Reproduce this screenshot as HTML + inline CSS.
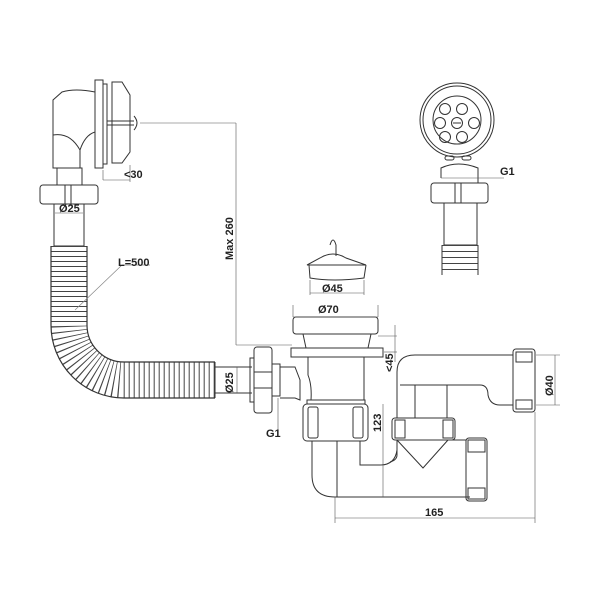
<!DOCTYPE html>
<html><head><meta charset="utf-8"><style>
html,body{margin:0;padding:0;background:#fff}
svg{display:block}
text{font-family:"Liberation Sans",sans-serif;font-weight:bold;font-size:11px;fill:#222}
</style></head><body>
<svg width="600" height="600" viewBox="0 0 600 600" xmlns="http://www.w3.org/2000/svg">
<g fill="none" stroke="#333" stroke-width="1">
<!-- overflow elbow -->
<path d="M53 100 L53 168 L80 168 L80 150 Q85 135 95 132 L95 92 Q75 88 62 92 L53 100Z"/>
<path d="M53 135 Q70 132 80 150"/>
<rect x="95" y="80" width="8" height="88"/>
<rect x="103" y="84" width="4" height="80"/>
<path d="M112 82 L122 82 L130 95 L130 152 L122 163 L112 163Z"/>
<line x1="107" y1="121" x2="134" y2="121"/><line x1="107" y1="125" x2="134" y2="125"/>
<path d="M134 116 Q140 123 134 130"/>
<!-- nut -->
<rect x="57" y="168" width="25" height="17"/>
<rect x="40" y="185" width="58" height="19" rx="3"/>
<line x1="65" y1="185" x2="65" y2="204"/><line x1="71" y1="185" x2="71" y2="204"/>
<rect x="54" y="204" width="30" height="42"/>
<!-- hose -->
<path d="M69 246 L69 325 A55 55 0 0 0 124 380 L215 380" stroke-width="36" stroke="#444" stroke-dasharray="1 4"/>
<path d="M51 246 L51 325 A73 73 0 0 0 124 398 L215 398" stroke-width="1.2"/>
<path d="M87 246 L87 325 A37 37 0 0 0 124 362 L215 362" stroke-width="1.2"/>
<path d="M215 367 L252 367 M215 393 L252 393 M215 362 L215 398"/>
<rect x="250" y="358" width="4" height="44"/>
<rect x="254" y="347" width="18" height="66" rx="3"/>
<line x1="254" y1="372" x2="272" y2="372"/><line x1="254" y1="388" x2="272" y2="388"/>
<rect x="272" y="364" width="8" height="32"/>
<path d="M280 367 L295 367 L300 380 L300 400 L295 398 L280 398"/>
<!-- L=500 leader -->
<path d="M75 310 L122 265 L150 265" stroke="#888" stroke-width="0.7"/>
<!-- drain -->
<rect x="293" y="317" width="85" height="17" rx="3"/>
<path d="M303 334 L306 348 L368 348 L371 334"/>
<rect x="291" y="348" width="92" height="9"/>
<path d="M308 357 L308 375 Q312 385 311 400 L364 400 L364 357"/>
<rect x="307" y="400" width="58" height="4"/>
<rect x="303" y="404" width="65" height="37" rx="4"/>
<rect x="308" y="407" width="10" height="31" rx="2"/><rect x="353" y="407" width="10" height="31" rx="2"/>
<path d="M312 441 L312 475 Q312 497 335 497 L470 497"/>
<path d="M360 441 L360 465 L380 465 Q395 465 397 450"/>
<line x1="337" y1="441" x2="337" y2="497"/>
<!-- trap -->
<path d="M397 418 L397 372 Q397 355 415 355 L513 355"/>
<path d="M400 385 L415 385 L415 418 M400 385 L480 385 Q488 385 488 395 Q490 405 500 405 L513 405"/>
<line x1="447" y1="385" x2="447" y2="418"/>
<rect x="513" y="349" width="22" height="63" rx="3"/>
<rect x="516" y="352" width="16" height="10"/><rect x="516" y="400" width="16" height="9"/>
<rect x="392" y="418" width="63" height="22" rx="3"/>
<rect x="395" y="420" width="10" height="18"/><rect x="443" y="420" width="10" height="18"/>
<path d="M397 440 L423 468 L448 440"/>
<path d="M397 440 L397 455 Q397 460 390 462"/>
<line x1="448" y1="440" x2="466" y2="440"/>
<rect x="466" y="438" width="21" height="63" rx="3"/>
<rect x="468" y="440" width="17" height="12"/><rect x="468" y="488" width="17" height="11"/>
<!-- stopper -->
<path d="M330 245 Q333 235 336 245 L336 256"/>
<path d="M320 258 Q333 250 346 258 L366 265 L307 265 Z"/>
<path d="M309 265 L310 278 Q333 282 364 278 L366 265"/>
<!-- rosette -->
<circle cx="457" cy="120" r="37"/><circle cx="457" cy="120" r="34"/><circle cx="457" cy="120" r="24"/>
<circle cx="445" cy="109" r="5.5"/><circle cx="462" cy="109" r="5.5"/>
<circle cx="440" cy="123" r="5.5"/><circle cx="457" cy="123" r="5.5"/><circle cx="474" cy="123" r="5.5"/>
<circle cx="445" cy="137" r="5.5"/><circle cx="462" cy="137" r="5.5"/>
<line x1="453" y1="123" x2="461" y2="123"/>
<rect x="445" y="156" width="9" height="4" rx="2"/><rect x="462" y="156" width="9" height="4" rx="2"/>
<path d="M441 178 L441 168 Q458 160 478 168 L478 183"/>
<rect x="431" y="183" width="57" height="20" rx="3"/>
<line x1="455" y1="183" x2="455" y2="203"/><line x1="461" y1="183" x2="461" y2="203"/>
<rect x="444" y="203" width="33" height="42"/>
<path d="M460 245 L460 275" stroke-width="36" stroke="#444" stroke-dasharray="1 5"/>
<path d="M442 245 L442 275 M478 245 L478 275"/>
</g>
<!-- dimensions -->
<g fill="none" stroke="#555" stroke-width="0.6">
<line x1="140" y1="123" x2="236" y2="123"/><line x1="236" y1="123" x2="236" y2="345"/><line x1="236" y1="345" x2="292" y2="345"/>
<line x1="103" y1="170" x2="103" y2="180"/><line x1="103" y1="180" x2="130" y2="180"/><line x1="130" y1="165" x2="130" y2="182"/>
<line x1="55" y1="213" x2="83" y2="213"/>
<line x1="237" y1="367" x2="237" y2="393"/>
<line x1="278" y1="398" x2="278" y2="430"/>
<line x1="504" y1="178" x2="441" y2="178"/>
<line x1="310" y1="293" x2="364" y2="293"/><line x1="310" y1="280" x2="310" y2="295"/><line x1="364" y1="280" x2="364" y2="295"/>
<line x1="293" y1="317" x2="378" y2="317"/><line x1="293" y1="305" x2="293" y2="317"/><line x1="378" y1="305" x2="378" y2="317"/>
<line x1="378" y1="336" x2="397" y2="336"/><line x1="384" y1="352" x2="397" y2="352"/><line x1="395" y1="325" x2="395" y2="362"/>
<line x1="383" y1="404" x2="383" y2="497"/>
<line x1="536" y1="355" x2="560" y2="355"/><line x1="536" y1="405" x2="560" y2="405"/><line x1="555" y1="355" x2="555" y2="405"/>
<line x1="335" y1="497" x2="335" y2="523"/><line x1="535" y1="412" x2="535" y2="523"/><line x1="335" y1="518" x2="535" y2="518"/>
</g>
<g>
<text x="124" y="178">&lt;30</text>
<text x="59" y="212">Ø25</text>
<text x="118" y="266">L=500</text>
<text x="0" y="0" transform="translate(233,260) rotate(-90)">Max 260</text>
<text x="0" y="0" transform="translate(233,393) rotate(-90)">Ø25</text>
<text x="266" y="437">G1</text>
<text x="500" y="175">G1</text>
<text x="322" y="292">Ø45</text>
<text x="318" y="313">Ø70</text>
<text x="0" y="0" transform="translate(393,372) rotate(-90)">&lt;45</text>
<text x="0" y="0" transform="translate(381,432) rotate(-90)">123</text>
<text x="0" y="0" transform="translate(553,396) rotate(-90)">Ø40</text>
<text x="425" y="516">165</text>
</g>
</svg>
</body></html>
